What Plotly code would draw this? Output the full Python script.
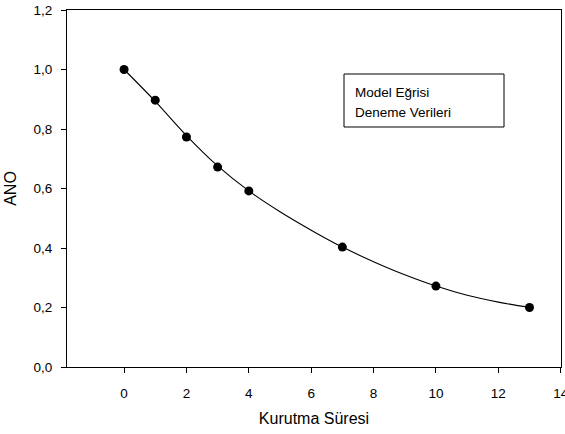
import plotly.graph_objects as go

# Measured drying data (time vs. ANO)
sure = [0, 1, 2, 3, 4, 7, 10, 13]
ano = [1.0, 0.897, 0.773, 0.672, 0.592, 0.403, 0.272, 0.2]

# Fitted model curve values
model_x = [0, 1, 2, 3, 4, 5, 6, 7, 8, 9, 10, 11, 12, 13]
model_y = [1.0, 0.893, 0.778, 0.676, 0.592, 0.522, 0.46, 0.403, 0.354, 0.31, 0.272, 0.241, 0.218, 0.2]

x_ticks = [0, 2, 4, 6, 8, 10, 12, 14]
y_ticks = [0.0, 0.2, 0.4, 0.6, 0.8, 1.0, 1.2]

font_family = "Liberation Sans, Arial, sans-serif"
tick_size = 13.5
title_size = 16

fig = go.Figure()
fig.add_trace(go.Scatter(
    x=model_x, y=model_y, mode="lines", name="Model Eğrisi",
    line=dict(color="black", width=1.1, shape="spline"),
))
fig.add_trace(go.Scatter(
    x=sure, y=ano, mode="markers", name="Deneme Verileri",
    marker=dict(color="black", size=9),
))

fig.update_layout(
    width=565, height=434,
    margin=dict(l=67, r=4, t=10, b=67, autoexpand=False),
    plot_bgcolor="white", paper_bgcolor="white",
    separators=",.",
    showlegend=False,
    font=dict(family=font_family, color="black", size=tick_size),
)
fig.update_xaxes(
    range=[-1.83, 14.01], tickvals=x_ticks, ticks="outside", ticklen=5,
    tickwidth=1, tickcolor="black", showgrid=False, zeroline=False,
    showline=True, linecolor="black", linewidth=1.2, mirror=True,
    ticklabelstandoff=9, ticklabeloverflow="allow", automargin=False,
    title=dict(text="Kurutma Süresi", font=dict(size=title_size), standoff=12),
)
fig.update_yaxes(
    range=[0, 1.2], tickvals=y_ticks, tickformat=".1f", ticks="outside",
    ticklen=5, tickwidth=1, tickcolor="black", showgrid=False, zeroline=False,
    showline=True, linecolor="black", linewidth=1.2, mirror=True,
    ticklabelstandoff=6, automargin=False,
    title=dict(text="ANO", font=dict(size=title_size), standoff=12),
)

# Legend box drawn as a bordered text block
fig.add_shape(type="rect", xref="paper", yref="paper",
              x0=(344 - 67) / 494, x1=(504 - 67) / 494,
              y0=(367 - 127) / 357, y1=(367 - 74) / 357,
              line=dict(color="black", width=1), fillcolor="white")
fig.add_annotation(xref="paper", yref="paper", x=(353 - 67) / 494, y=(367 - 93) / 357,
                   text="Model Eğrisi", showarrow=False, xanchor="left", yanchor="middle",
                   font=dict(size=tick_size))
fig.add_annotation(xref="paper", yref="paper", x=(353 - 67) / 494, y=(367 - 112) / 357,
                   text="Deneme Verileri", showarrow=False, xanchor="left", yanchor="middle",
                   font=dict(size=tick_size))

fig.write_html("out.html")
